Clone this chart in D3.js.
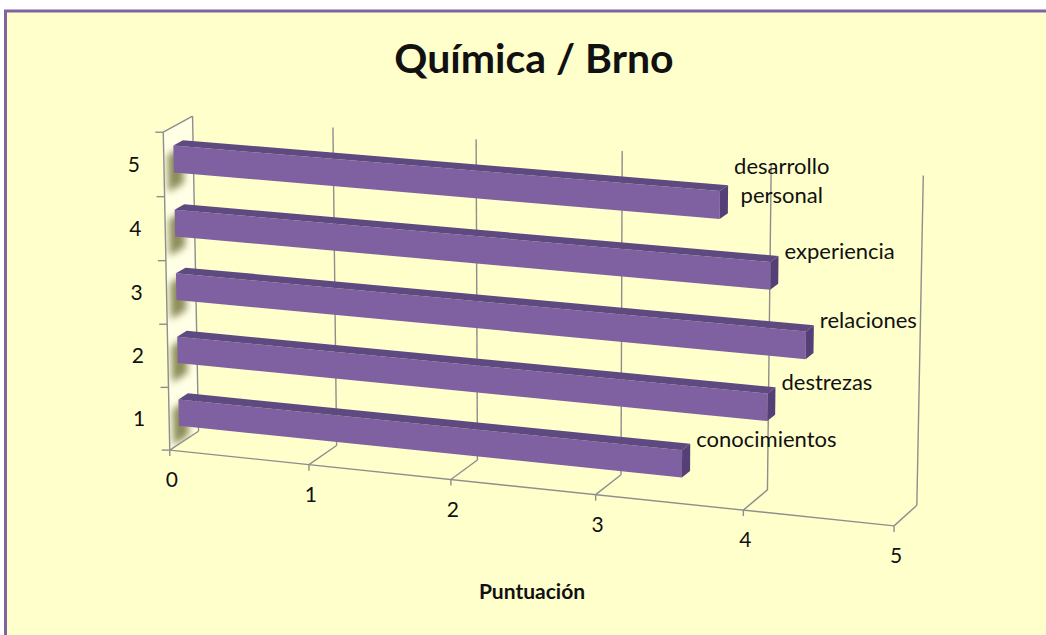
<!DOCTYPE html>
<html>
<head>
<meta charset="utf-8">
<script src="https://cdn.jsdelivr.net/npm/d3@7"></script>
<style>
  html, body { margin: 0; padding: 0; background: #ffffff; }
  svg { display: block; }
  text { font-family: Lato, "Open Sans", sans-serif; fill: #111111; }
</style>
</head>
<body>
<div id="chart"></div>
<script>
// data
const categories = ["1", "2", "3", "4", "5"];
const names = ["conocimientos", "destrezas", "relaciones", "experiencia", "desarrollo personal"];
const values = [3.53, 4.1, 4.35, 4.11, 3.77];
const xTicks = [0, 1, 2, 3, 4, 5];

const width = 1046, height = 635;

// camera anchors: world point (x, y, z in 0..1) -> screen point, used to fit the perspective
const anchors = [
  [0, 0, 0, 170, 452], [0.2, 0, 0, 309, 465], [0.4, 0, 0, 451, 481],
  [0.6, 0, 0, 595, 494], [0.8, 0, 0, 743, 510], [1, 0, 0, 894, 525],
  [0, 0, 1, 198, 430], [0.2, 0, 1, 337, 444], [0.4, 0, 1, 477, 458],
  [0.6, 0, 1, 621, 476], [0.8, 0, 1, 768, 492], [1, 0, 1, 917, 505],
  [0, 1, 1, 192, 117], [0.2, 1, 1, 332, 128], [0.4, 1, 1, 478, 140],
  [0.6, 1, 1, 622, 152], [1, 1, 1, 923, 174],
  [0, 1, 0, 163, 131], [0, 0.6, 0, 166, 260], [0, 0.4, 0, 168, 324]
];

function fitProjection(pts) {
  const cx = 520, cy = 320, s = 400;
  const A = [], b = [];
  pts.forEach(([x, y, z, U, V]) => {
    const u = (U - cx) / s, v = (V - cy) / s;
    A.push([x, y, z, 1, 0, 0, 0, 0, -u * x, -u * y, -u * z]); b.push(u);
    A.push([0, 0, 0, 0, x, y, z, 1, -v * x, -v * y, -v * z]); b.push(v);
  });
  const n = 11;
  const M = d3.range(n).map(i => d3.range(n).map(j => d3.sum(A, row => row[i] * row[j])));
  const r = d3.range(n).map(i => d3.sum(A, (row, k) => row[i] * b[k]));
  for (let c = 0; c < n; c++) {
    let piv = c;
    for (let i = c + 1; i < n; i++) if (Math.abs(M[i][c]) > Math.abs(M[piv][c])) piv = i;
    [M[c], M[piv]] = [M[piv], M[c]]; [r[c], r[piv]] = [r[piv], r[c]];
    for (let i = c + 1; i < n; i++) {
      const f = M[i][c] / M[c][c];
      for (let j = c; j < n; j++) M[i][j] -= f * M[c][j];
      r[i] -= f * r[c];
    }
  }
  const p = new Array(n).fill(0);
  for (let i = n - 1; i >= 0; i--) {
    let acc = r[i];
    for (let j = i + 1; j < n; j++) acc -= M[i][j] * p[j];
    p[i] = acc / M[i][i];
  }
  return (x, y, z) => {
    const w = p[8] * x + p[9] * y + p[10] * z + 1;
    return [cx + s * (p[0] * x + p[1] * y + p[2] * z + p[3]) / w,
            cy + s * (p[4] * x + p[5] * y + p[6] * z + p[7]) / w];
  };
}
const proj = fitProjection(anchors);

const x = d3.scaleLinear().domain([0, 5]).range([0, 1]);
const y = d3.scaleBand().domain(categories).range([0, 1]).paddingInner(0.58).paddingOuter(0.29);
const z0 = 0.33, z1 = 0.66;

const svg = d3.select("#chart").append("svg").attr("width", width).attr("height", height);

const defs = svg.append("defs");
defs.append("filter").attr("id", "blur").attr("x", "-50%").attr("y", "-50%").attr("width", "200%").attr("height", "200%")
  .append("feGaussianBlur").attr("stdDeviation", 3.5);

svg.append("rect").attr("x", 5.5).attr("y", 11).attr("width", 1100).attr("height", 700)
  .attr("fill", "#ffffcc").attr("stroke", "#8064a2").attr("stroke-width", 3);

const poly = pts => "M" + pts.map(p => p.join(",")).join("L") + "Z";
const seg = (a, b) => "M" + a.join(",") + "L" + b.join(",");

// left wall
const wall = [proj(0, 0, 0), proj(0, 0, 1), proj(0, 1, 1), proj(0, 1, 0)];
defs.append("clipPath").attr("id", "wallClip").append("path").attr("d", poly(wall));
svg.append("path").attr("d", poly(wall)).attr("fill", "#ffffe6");
svg.append("g").attr("clip-path", "url(#wallClip)")
  .selectAll("path").data(categories).join("path")
  .attr("d", c => {
    const b0 = y(c) - 0.05, b1 = y(c) + y.bandwidth() - 0.02;
    return poly([proj(0, b0, z0 - 0.2), proj(0, b0, z1), proj(0, b1, z1), proj(0, b1, z0 - 0.2)]);
  })
  .attr("fill", "#6f6f38").attr("opacity", 0.8).attr("filter", "url(#blur)");

// gridlines
const grid = svg.append("g").attr("fill", "none").attr("stroke", "#8e8e8e").attr("stroke-width", 1.4);
grid.selectAll(".floor").data(xTicks).join("path")
  .attr("d", t => seg(proj(x(t), 0, 0), proj(x(t), 0, 1)));
grid.selectAll(".back").data(xTicks).join("path")
  .attr("d", t => seg(proj(x(t), 0, 1), proj(x(t), 1, 1)));
grid.append("path").attr("d", seg(proj(0, 1, 0), proj(0, 1, 1)));
// axes lines
grid.append("path").attr("d", seg(proj(0, 0, 0), proj(1, 0, 0)));
grid.append("path").attr("d", seg(proj(0, 0, 0), proj(0, 1, 0)));

const yTickPos = d3.range(categories.length + 1).map(i => i / categories.length);
grid.selectAll(".ytick").data(yTickPos).join("path")
  .attr("d", t => { const p = proj(0, t, 0); return seg(p, [p[0] - 8, p[1]]); });
grid.selectAll(".xtick").data(xTicks).join("path")
  .attr("d", t => { const p = proj(x(t), 0, 0); return seg(p, [p[0], p[1] + 6]); });

// bars
const bars = svg.append("g").selectAll("g").data(values).join("g");
const yb = i => [y(categories[i]), y(categories[i]) + y.bandwidth()];
bars.append("path")
  .attr("d", (v, i) => { const [a, b] = yb(i); const e = x(v);
    return poly([proj(0, a, z0), proj(e, a, z0), proj(e, b, z0), proj(0, b, z0)]); })
  .attr("fill", "#7f60a1");
bars.append("path")
  .attr("d", (v, i) => { const [, b] = yb(i); const e = x(v);
    return poly([proj(0, b, z0), proj(e, b, z0), proj(e, b, z1), proj(0, b, z1)]); })
  .attr("fill", "#5f4981");
bars.append("path")
  .attr("d", (v, i) => { const [a, b] = yb(i); const e = x(v);
    return poly([proj(e, a, z0), proj(e, a, z1), proj(e, b, z1), proj(e, b, z0)]); })
  .attr("fill", "#543f77");

// data labels
svg.append("g").selectAll("text").data(values).join("text")
  .attr("font-size", 22)
  .each(function (v, i) {
    const [, b] = yb(i);
    const p = proj(x(v), b, z1);
    const lines = names[i] === "desarrollo personal" ? ["desarrollo", "personal"] : [names[i]];
    const t = d3.select(this);
    const lh = 29;
    lines.forEach((ln, k) => t.append("tspan").text(ln)
      .attr("y", p[1] - 5 + (k - (lines.length - 1) / 2) * lh).attr("dy", "0.35em"));
    const w = d3.max(t.selectAll("tspan").nodes(), n => n.getComputedTextLength());
    t.attr("text-anchor", "middle").selectAll("tspan").attr("x", p[0] + 6 + w / 2);
  });

// tick labels
svg.append("g").selectAll("text").data(xTicks).join("text")
  .attr("font-size", 21).attr("text-anchor", "middle").attr("dy", "0.35em")
  .attr("x", t => proj(x(t), 0, 0)[0] + 2).attr("y", t => proj(x(t), 0, 0)[1] + 30)
  .text(t => t);
svg.append("g").selectAll("text").data(categories).join("text")
  .attr("font-size", 21).attr("text-anchor", "middle").attr("dy", "0.35em")
  .attr("x", c => proj(0, y(c) + y.bandwidth() / 2, 0)[0] - 30)
  .attr("y", c => proj(0, y(c) + y.bandwidth() / 2, 0)[1])
  .text(c => c);

// titles
svg.append("text").attr("x", 534).attr("y", 73).attr("text-anchor", "middle")
  .attr("font-size", 41).attr("font-weight", "bold").text("Química / Brno");
svg.append("text").attr("x", 532).attr("y", 599).attr("text-anchor", "middle")
  .attr("font-size", 21).attr("font-weight", "bold").text("Puntuación");
</script>
</body>
</html>
